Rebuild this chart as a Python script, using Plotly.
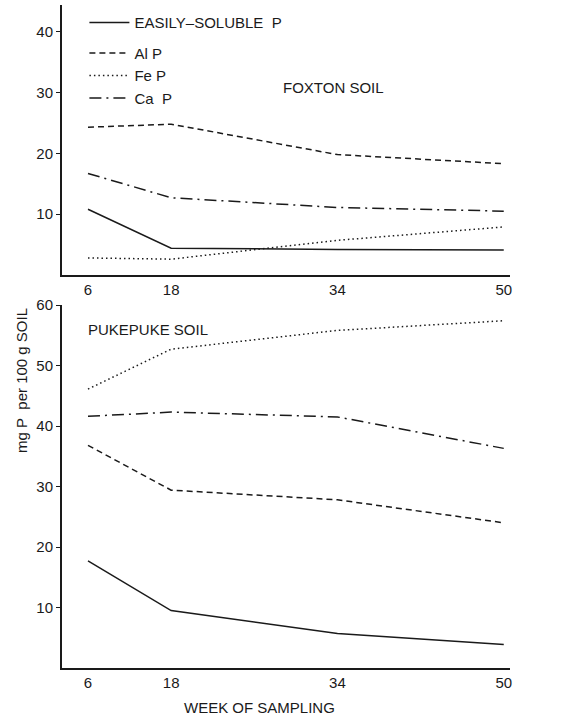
import plotly.graph_objects as go

# ---- data ----
weeks = [6, 18, 34, 50]
week_labels = ["6", "18", "34", "50"]
series_names = ["EASILY\u2013SOLUBLE\u00a0\u00a0P", "Al P", "Fe P", "Ca\u00a0\u00a0P"]

foxton_easily = [10.8, 4.4, 4.2, 4.1]
foxton_al = [24.3, 24.8, 19.8, 18.3]
foxton_fe = [2.8, 2.6, 5.7, 7.9]
foxton_ca = [16.7, 12.7, 11.1, 10.5]

pukepuke_easily = [17.7, 9.5, 5.7, 3.9]
pukepuke_al = [36.8, 29.4, 27.8, 24.0]
pukepuke_fe = [46.1, 52.7, 55.8, 57.4]
pukepuke_ca = [41.6, 42.3, 41.5, 36.3]

top_yticks = [10, 20, 30, 40]
bottom_yticks = [10, 20, 30, 40, 50, 60]


# The printed week axis draws the 6-18 interval compressed (as in the original figure)
def axis_pos(w):
    if w >= 18:
        return w
    return 18 - (18 - w) * (8 / 12)


xpos = [axis_pos(w) for w in weeks]

ink = "#1a1a1a"
font_family = "Liberation Sans, Arial, sans-serif"
dashes = ["solid", "6px,4px", "1.5px,3px", "12px,5px,2px,5px"]
groups = ["g1", "g2", "g2", "g2"]

fig = go.Figure()

top_series = [foxton_easily, foxton_al, foxton_fe, foxton_ca]
bottom_series = [pukepuke_easily, pukepuke_al, pukepuke_fe, pukepuke_ca]

for name, vals, dash, grp in zip(series_names, top_series, dashes, groups):
    fig.add_trace(go.Scatter(
        x=xpos, y=vals, mode="lines", name=name, legendgroup=grp,
        line=dict(color=ink, width=1.5, dash=dash),
        xaxis="x", yaxis="y", showlegend=True,
    ))

for name, vals, dash, grp in zip(series_names, bottom_series, dashes, groups):
    fig.add_trace(go.Scatter(
        x=xpos, y=vals, mode="lines", name=name, legendgroup=grp,
        line=dict(color=ink, width=1.5, dash=dash),
        xaxis="x2", yaxis="y2", showlegend=False,
    ))

axis_common = dict(
    showline=True, linecolor=ink, linewidth=2, showgrid=False, zeroline=False,
    tickfont=dict(size=15, color=ink, family=font_family),
)

fig.update_layout(
    width=567, height=718,
    margin=dict(l=62, r=57, t=5, b=50, autoexpand=False),
    paper_bgcolor="white", plot_bgcolor="white",
    font=dict(family=font_family, color=ink, size=15),
    xaxis=dict(domain=[0, 1], anchor="y", range=[7.5, 50.6],
               tickvals=xpos, ticktext=week_labels, ticks="", **axis_common),
    yaxis=dict(domain=[0.5928, 1], anchor="x", range=[0, 44.4],
               tickvals=top_yticks, ticks="outside", ticklen=4, tickwidth=1,
               tickcolor=ink, **axis_common),
    xaxis2=dict(domain=[0, 1], anchor="y2", range=[7.5, 50.6],
                tickvals=xpos, ticktext=week_labels, ticks="", **axis_common),
    yaxis2=dict(domain=[0, 0.5475], anchor="x2", range=[0, 60],
                tickvals=bottom_yticks, ticks="outside", ticklen=4, tickwidth=1,
                tickcolor=ink, **axis_common),
    legend=dict(x=0.05, y=0.998, xanchor="left", yanchor="top",
                bgcolor="rgba(0,0,0,0)", traceorder="grouped",
                tracegroupgap=8, itemwidth=40,
                font=dict(size=15, color=ink, family=font_family)),
    showlegend=True,
)

fig.add_annotation(text="FOXTON SOIL", x=33.6, y=30.8, xref="x", yref="y",
                   showarrow=False, font=dict(size=15, color=ink))
fig.add_annotation(text="PUKEPUKE SOIL", x=9.8, y=55.9, xref="x2", yref="y2",
                   xanchor="left", showarrow=False, font=dict(size=15, color=ink))
fig.add_annotation(text="mg P\u00a0\u00a0per 100 g SOIL", x=-0.089, y=0.433,
                   xref="paper", yref="paper", xanchor="center", yanchor="middle",
                   textangle=-90, showarrow=False,
                   font=dict(size=15, color=ink))
fig.add_annotation(text="WEEK OF SAMPLING", x=0.44, y=-0.059,
                   xref="paper", yref="paper", xanchor="center", yanchor="middle",
                   showarrow=False, font=dict(size=15, color=ink))

fig.write_html("out.html", config={"displayModeBar": False},
               post_script="document.body.style.margin='0';")
